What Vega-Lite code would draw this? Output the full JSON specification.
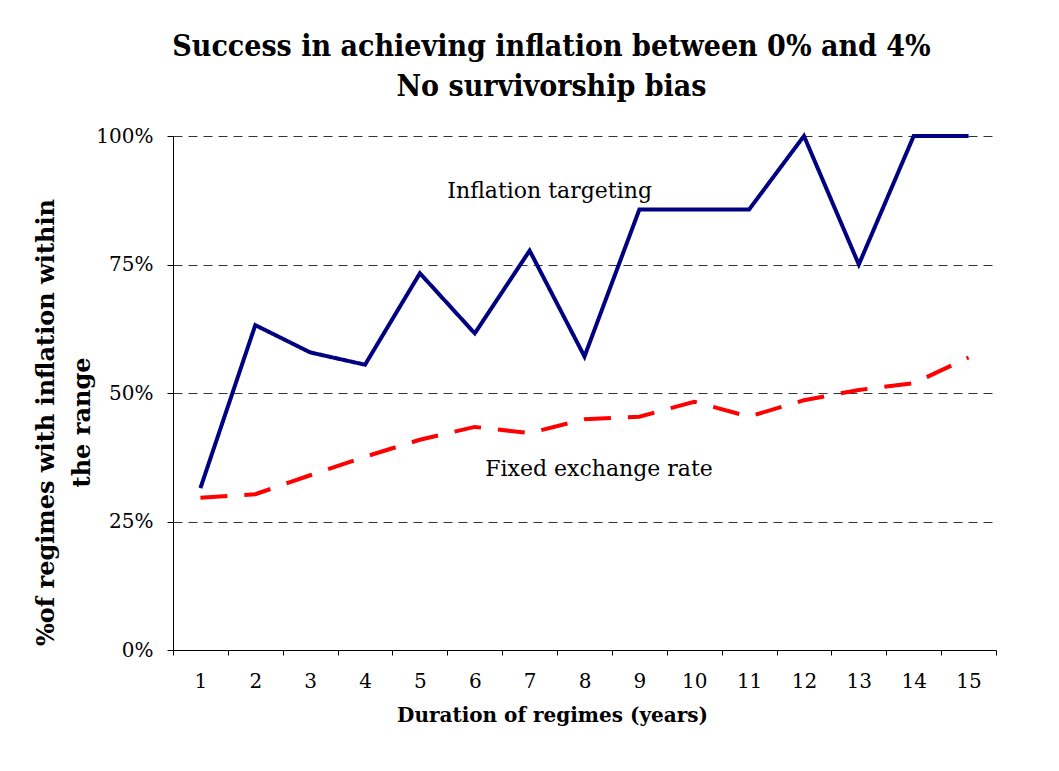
{
  "$schema": "https://vega.github.io/schema/vega-lite/v6.json",
  "width": 823,
  "height": 514,
  "autosize": {"type": "none"},
  "padding": {"left": 173, "top": 136, "right": 63, "bottom": 121},
  "background": "white",
  "config": {"view": {"stroke": null}, "font": "DejaVu Serif"},
  "title": {
    "text": ["Success in achieving inflation between 0% and 4%", "No survivorship bias"],
    "font": "'DejaVu Serif Condensed', 'DejaVu Serif', serif",
    "fontSize": 30,
    "fontWeight": "bold",
    "color": "black",
    "lineHeight": 40,
    "anchor": "middle",
    "dx": -33,
    "offset": 24
  },
  "datasets": {
    "series": [
      {"year": 1, "regime": "Inflation targeting", "value": 0.315},
      {"year": 2, "regime": "Inflation targeting", "value": 0.632},
      {"year": 3, "regime": "Inflation targeting", "value": 0.579},
      {"year": 4, "regime": "Inflation targeting", "value": 0.555},
      {"year": 5, "regime": "Inflation targeting", "value": 0.733},
      {"year": 6, "regime": "Inflation targeting", "value": 0.616},
      {"year": 7, "regime": "Inflation targeting", "value": 0.777},
      {"year": 8, "regime": "Inflation targeting", "value": 0.571},
      {"year": 9, "regime": "Inflation targeting", "value": 0.857},
      {"year": 10, "regime": "Inflation targeting", "value": 0.857},
      {"year": 11, "regime": "Inflation targeting", "value": 0.857},
      {"year": 12, "regime": "Inflation targeting", "value": 1.0},
      {"year": 13, "regime": "Inflation targeting", "value": 0.75},
      {"year": 14, "regime": "Inflation targeting", "value": 1.0},
      {"year": 15, "regime": "Inflation targeting", "value": 1.0},
      {"year": 1, "regime": "Fixed exchange rate", "value": 0.296},
      {"year": 2, "regime": "Fixed exchange rate", "value": 0.303},
      {"year": 3, "regime": "Fixed exchange rate", "value": 0.340},
      {"year": 4, "regime": "Fixed exchange rate", "value": 0.376},
      {"year": 5, "regime": "Fixed exchange rate", "value": 0.409},
      {"year": 6, "regime": "Fixed exchange rate", "value": 0.434},
      {"year": 7, "regime": "Fixed exchange rate", "value": 0.422},
      {"year": 8, "regime": "Fixed exchange rate", "value": 0.449},
      {"year": 9, "regime": "Fixed exchange rate", "value": 0.454},
      {"year": 10, "regime": "Fixed exchange rate", "value": 0.483},
      {"year": 11, "regime": "Fixed exchange rate", "value": 0.454},
      {"year": 12, "regime": "Fixed exchange rate", "value": 0.486},
      {"year": 13, "regime": "Fixed exchange rate", "value": 0.506},
      {"year": 14, "regime": "Fixed exchange rate", "value": 0.519},
      {"year": 15, "regime": "Fixed exchange rate", "value": 0.569}
    ],
    "labels1": [{"year": 6, "value": 0.879, "label": "Inflation targeting"}],
    "labels2": [{"year": 6, "value": 0.339, "label": "Fixed exchange rate"}]
  },
  "layer": [
    {
      "data": {"name": "series"},
      "mark": {"type": "line", "strokeWidth": 4, "strokeCap": "butt"},
      "encoding": {
        "x": {
          "field": "year",
          "type": "ordinal",
          "bandPosition": 0.5,
          "scale": {"type": "band", "paddingInner": 0, "paddingOuter": 0, "domain": [1,2,3,4,5,6,7,8,9,10,11,12,13,14,15]},
          "axis": {
            "title": "Duration of regimes (years)",
            "titleFont": "DejaVu Serif",
            "titleFontSize": 20,
            "titleFontWeight": "bold",
            "titleColor": "black",
            "titleX": 379,
            "titleY": 71,
            "titleAlign": "center",
            "titleBaseline": "alphabetic",
            "titleAnchor": null,
            "labelAngle": 0,
            "labelFont": "DejaVu Serif",
            "labelFontSize": 20,
            "labelColor": "black",
            "labelBaseline": "alphabetic",
            "labelPadding": 32,
            "tickBand": "extent",
            "tickSize": 5,
            "tickColor": "black",
            "domainColor": "black",
            "grid": false
          }
        },
        "y": {
          "field": "value",
          "type": "quantitative",
          "scale": {"domain": [0, 1], "nice": false, "zero": true},
          "axis": {
            "values": [0, 0.25, 0.5, 0.75, 1],
            "format": ".0%",
            "title": ["%of regimes with inflation within", "the range"],
            "titleFont": "DejaVu Serif",
            "titleFontSize": 24,
            "titleFontWeight": "bold",
            "titleColor": "black",
            "titleLineHeight": 36,
            "titleAngle": -90,
            "titleX": -127,
            "titleY": 286,
            "titleAlign": "center",
            "titleBaseline": "middle",
            "titleAnchor": null,
            "labelFont": "DejaVu Serif",
            "labelFontSize": 20,
            "labelColor": "black",
            "labelPadding": 14,
            "tickSize": 6,
            "tickColor": "black",
            "domainColor": "black",
            "grid": true,
            "gridColor": "#333333",
            "gridDash": [9, 6],
            "gridWidth": 1,
            "gridOpacity": 1
          }
        },
        "color": {
          "field": "regime",
          "type": "nominal",
          "scale": {"domain": ["Inflation targeting", "Fixed exchange rate"], "range": ["#000080", "#ff0000"]},
          "legend": null
        },
        "strokeDash": {
          "field": "regime",
          "type": "nominal",
          "scale": {"domain": ["Inflation targeting", "Fixed exchange rate"], "range": [[1, 0], [27, 17]]},
          "legend": null
        }
      }
    },
    {
      "data": {"name": "labels1"},
      "mark": {"type": "text", "align": "left", "baseline": "alphabetic", "font": "DejaVu Serif", "fontSize": 22, "color": "black"},
      "encoding": {
        "x": {"field": "year", "type": "ordinal", "bandPosition": 0},
        "y": {"field": "value", "type": "quantitative"},
        "text": {"field": "label"}
      }
    },
    {
      "data": {"name": "labels2"},
      "mark": {"type": "text", "align": "left", "baseline": "alphabetic", "font": "DejaVu Serif", "fontSize": 22, "color": "black"},
      "encoding": {
        "x": {"field": "year", "type": "ordinal", "bandPosition": 0.69},
        "y": {"field": "value", "type": "quantitative"},
        "text": {"field": "label"}
      }
    }
  ]
}
